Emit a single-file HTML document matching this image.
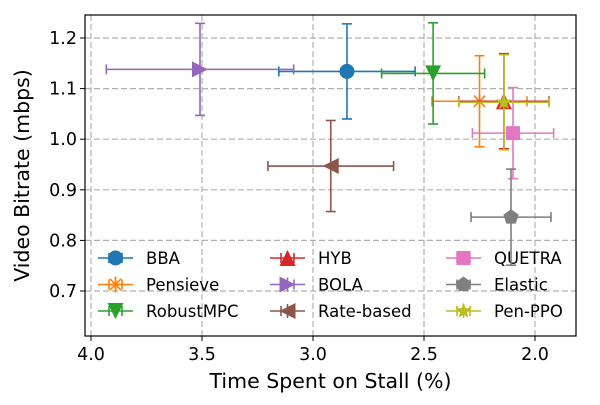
<!DOCTYPE html>
<html><head><meta charset="utf-8"><style>
body{margin:0;background:#fff}
svg text{font-family:"DejaVu Sans","Liberation Sans",sans-serif}
</style></head><body>
<svg id="chart" width="600" height="400" viewBox="0 0 600 400" xmlns="http://www.w3.org/2000/svg"></svg>
<script>
const names=["BBA","Pensieve","RobustMPC","HYB","BOLA","Rate-based","QUETRA","Elastic","Pen-PPO"];
const colors=["#1f77b4","#ff7f0e","#2ca02c","#d62728","#9467bd","#8c564b","#e377c2","#7f7f7f","#bcbd22"];
const markers=["circle","star","tdown","tup","tright","tleft","square","pent","starf"];
const xVals=[2.847,2.25,2.459,2.14,3.509,2.92,2.099,2.108,2.14];
const yVals=[1.134,1.075,1.130,1.075,1.138,0.947,1.012,0.846,1.073];
const xErr=[0.307,0.214,0.232,0.203,0.422,0.283,0.183,0.18,0.203];
const yErr=[0.094,0.09,0.1,0.094,0.091,0.09,0.09,0.095,0.094];
const xTicks=[4.0,3.5,3.0,2.5,2.0];
const yTicks=[0.7,0.8,0.9,1.0,1.1,1.2];
const L=85,R=576,T=15,B=336;
const X=v=>91+(4.0-v)*222;
const Y=v=>38+(1.2-v)*506;
const svg=document.getElementById('chart');
const NS="http://www.w3.org/2000/svg";
function mk(tag,attrs,parent){const e=document.createElementNS(NS,tag);for(const k in attrs)e.setAttribute(k,attrs[k]);(parent||svg).appendChild(e);return e;}
xTicks.forEach(t=>{const g=mk('line',{x1:X(t),x2:X(t),y1:T,y2:B,stroke:'#b0b0b0','stroke-dasharray':'6,3','stroke-width':1.2});


const tk=mk('line',{x1:X(t),x2:X(t),y1:B,y2:B+5,stroke:'#000'});


const tx=mk('text',{x:X(t),y:B+24,'text-anchor':'middle','font-size':17.5});tx.textContent=t.toFixed(1);

});
yTicks.forEach(t=>{const g=mk('line',{x1:L,x2:R,y1:Y(t),y2:Y(t),stroke:'#b0b0b0','stroke-dasharray':'6,3','stroke-width':1.2});


const tk=mk('line',{x1:L-5,x2:L,y1:Y(t),y2:Y(t),stroke:'#000'});


const tx=mk('text',{x:L-8,y:Y(t)+6,'text-anchor':'end','font-size':17.5});tx.textContent=t.toFixed(1);

});
function marker(type,cx,cy,c,p){
 const s=8;
 if(type==='circle')return mk('circle',{cx,cy,r:7.5,fill:c},p);
 if(type==='square')return mk('rect',{x:cx-7,y:cy-7,width:14,height:14,fill:c},p);
 const poly=pts=>mk('polygon',{points:pts.map(q=>(cx+q[0])+','+(cy+q[1])).join(' '),fill:c},p);
 if(type==='tdown')return poly([[-s,-s],[s,-s],[0,s]]);
 if(type==='tup')return poly([[-s,s],[s,s],[0,-s]]);
 if(type==='tright')return poly([[-s,-s],[-s,s],[s,0]]);
 if(type==='tleft')return poly([[s,-s],[s,s],[-s,0]]);
 if(type==='pent'){const a=[];for(let i=0;i<5;i++){const t=-Math.PI/2+i*2*Math.PI/5;a.push([8*Math.cos(t),8*Math.sin(t)]);}return poly(a);}
 if(type==='starf'){const a=[];for(let i=0;i<10;i++){const t=-Math.PI/2+i*Math.PI/5;const r=i%2?3.5:8.5;a.push([r*Math.cos(t),r*Math.sin(t)]);}return poly(a);}
 if(type==='star'){const g=mk('g',{stroke:c,'stroke-width':1.6},p);for(let i=0;i<4;i++){const t=i*Math.PI/4;mk('line',{x1:cx-8*Math.cos(t),y1:cy-8*Math.sin(t),x2:cx+8*Math.cos(t),y2:cy+8*Math.sin(t)},g);}return g;}
}
names.forEach((n,i)=>{
 const g=mk('g',{});
 
 
 const c=colors[i],cx=X(xVals[i]),cy=Y(yVals[i]);
 const x1=X(xVals[i]+xErr[i]),x2=X(xVals[i]-xErr[i]),y1=Y(yVals[i]+yErr[i]),y2=Y(yVals[i]-yErr[i]);
 mk('line',{x1,x2,y1:cy,y2:cy,stroke:c,'stroke-width':1.6},g);
 mk('line',{x1:cx,x2:cx,y1,y2,stroke:c,'stroke-width':1.6},g);
 [x1,x2].forEach(x=>mk('line',{x1:x,x2:x,y1:cy-5,y2:cy+5,stroke:c,'stroke-width':1.6},g));
 [y1,y2].forEach(y=>mk('line',{x1:cx-5,x2:cx+5,y1:y,y2:y,stroke:c,'stroke-width':1.6},g));
 const m=marker(markers[i],cx,cy,c,g);
 
 
 const col=Math.floor(i/3),row=i%3;
 const lx=[98,270,446][col],ly=258+row*26.5;
 const lg=mk('g',{});
 
 
 mk('line',{x1:lx,x2:lx+35,y1:ly,y2:ly,stroke:c,'stroke-width':1.6},lg);
 mk('line',{x1:lx+17.5,x2:lx+17.5,y1:ly-7,y2:ly+7,stroke:c,'stroke-width':1.6},lg);
 [lx+11,lx+24].forEach(x=>mk('line',{x1:x,x2:x,y1:ly-5,y2:ly+5,stroke:c,'stroke-width':1.6},lg));
 marker(markers[i],lx+17.5,ly,c,lg);
 const t=mk('text',{x:lx+48,y:ly+6,'font-size':16.5},lg);t.textContent=n;
});
const fr=mk('rect',{x:L,y:T,width:R-L,height:B-T,fill:'none',stroke:'#000','stroke-width':1.2});


const xl=mk('text',{x:(L+R)/2,y:388,'text-anchor':'middle','font-size':20.5});xl.textContent='Time Spent on Stall (%)';


const yl=mk('text',{x:0,y:0,'text-anchor':'middle','font-size':20.5,transform:'translate(29,'+((T+B)/2)+') rotate(-90)'});yl.textContent='Video Bitrate (mbps)';


</script>
</body></html>
